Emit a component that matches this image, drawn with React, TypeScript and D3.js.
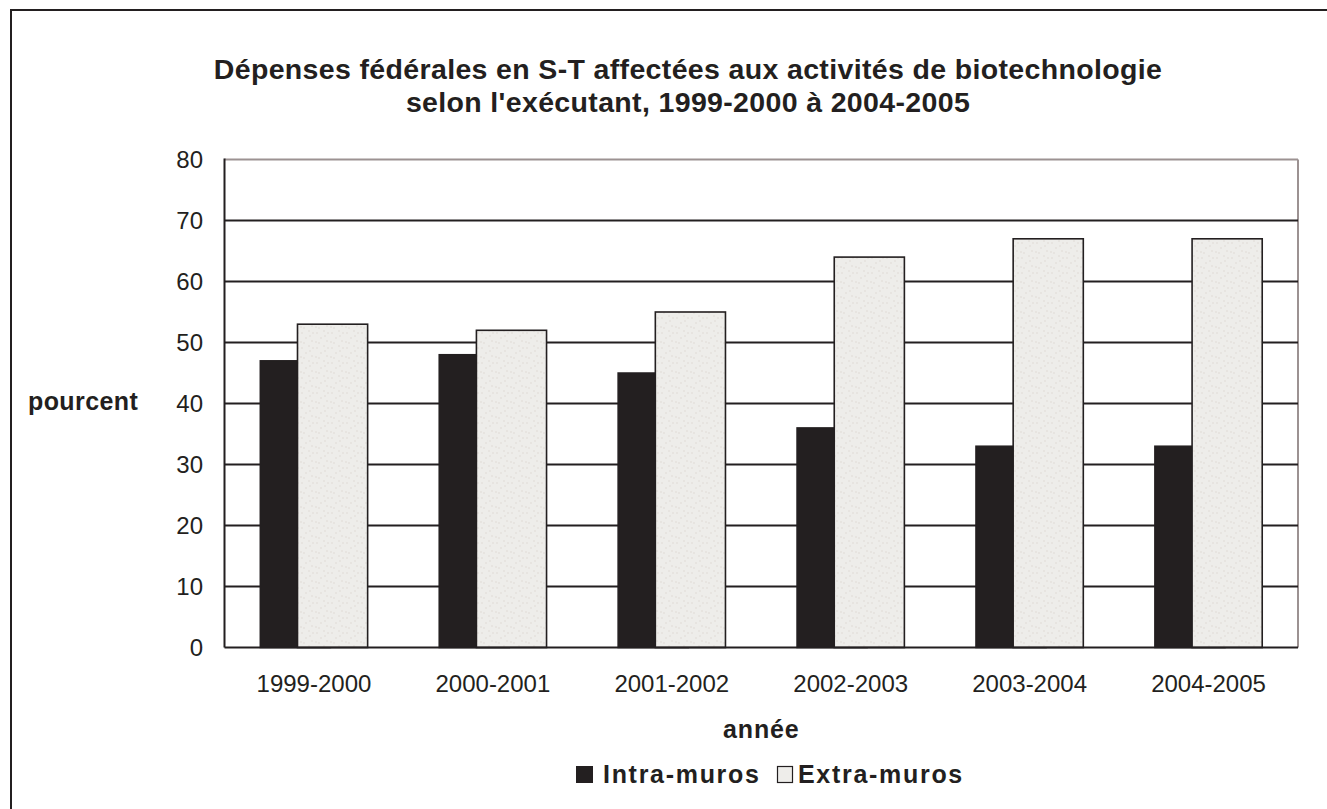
import React from "react";
import * as d3 from "d3";

const categories = ["1999-2000", "2000-2001", "2001-2002", "2002-2003", "2003-2004", "2004-2005"];
const intraMuros = [47, 48, 45, 36, 33, 33];
const extraMuros = [53, 52, 55, 64, 67, 67];
const yTicks = [0, 10, 20, 30, 40, 50, 60, 70, 80];
const titleLines = [
  "Dépenses fédérales en S-T affectées aux activités de biotechnologie",
  "selon l'exécutant, 1999-2000 à 2004-2005",
];
const seriesNames = ["Intra-muros", "Extra-muros"];

const W = 1327;
const H = 809;
const FONT = "'Liberation Sans', Arial, Helvetica, sans-serif";
const INK = "#231f20";
const LIGHT = "#eeedea";

export default function App() {
  const left = 224.5;
  const right = 1298;
  const top = 159.5;
  const bottom = 647.5;

  const x = d3.scaleBand<string>().domain(categories).range([left, right]).padding(0);
  const y = d3.scaleLinear().domain([0, 80]).range([bottom, top]);
  const bw = x.bandwidth();
  const barW = bw * 0.392;

  const speckles = [
    [2, 3], [9, 1], [6, 8], [12, 11], [1, 12], [10, 6], [4, 13], [13, 3],
  ];

  return (
    <svg
      width={W}
      height={H}
      style={{ position: "absolute", left: 0, top: 0, display: "block" }}
      fontFamily={FONT}
    >
      <defs>
        <pattern id="speck" width="15" height="15" patternUnits="userSpaceOnUse">
          <rect width="15" height="15" fill={LIGHT} />
          {speckles.map(([a, b], i) => (
            <circle key={i} cx={a} cy={b} r={0.7} fill="#dcd6cf" />
          ))}
        </pattern>
      </defs>
      <rect x={0} y={0} width={W} height={H} fill="#fff" />
      {/* outer frame */}
      <rect x={11} y={10} width={1400} height={900} fill="none" stroke={INK} strokeWidth={2} />

      {/* title */}
      {titleLines.map((t, i) => (
        <text
          key={i}
          x={688}
          y={79 + i * 33}
          textAnchor="middle"
          fontSize={28.5}
          fontWeight="bold"
          letterSpacing={0.35}
          fill={INK}
        >
          {t}
        </text>
      ))}

      {/* plot border top/right */}
      <line x1={left} x2={right} y1={top} y2={top} stroke="#9c9292" strokeWidth={2} />
      <line x1={right} x2={right} y1={top} y2={bottom} stroke="#9c9292" strokeWidth={2} />

      {/* gridlines */}
      {yTicks.filter((t) => t > 0 && t < 80).map((t) => (
        <line key={t} x1={left} x2={right} y1={y(t)} y2={y(t)} stroke={INK} strokeWidth={2} />
      ))}

      {/* bars */}
      {categories.map((c, i) => {
        const x0 = x(c)!;
        return (
          <g key={c}>
            <rect
              x={x0 + bw * 0.2}
              y={y(intraMuros[i])}
              width={barW}
              height={bottom - y(intraMuros[i])}
              fill={INK}
              stroke={INK}
              strokeWidth={1.5}
            />
            <rect
              x={x0 + bw * 0.408}
              y={y(extraMuros[i])}
              width={barW}
              height={bottom - y(extraMuros[i])}
              fill="url(#speck)"
              stroke={INK}
              strokeWidth={1.6}
            />
          </g>
        );
      })}

      {/* axes */}
      <line x1={left} x2={left} y1={top - 1} y2={bottom} stroke={INK} strokeWidth={2} />
      <line x1={left} x2={right} y1={bottom} y2={bottom} stroke={INK} strokeWidth={2.2} />

      {/* y tick labels */}
      {yTicks.map((t) => (
        <text key={t} x={203} y={y(t)} dy="0.36em" textAnchor="end" fontSize={24} fill={INK}>
          {t}
        </text>
      ))}

      {/* x tick labels */}
      {categories.map((c) => (
        <text key={c} x={x(c)! + bw / 2} y={692} textAnchor="middle" fontSize={24} fill={INK}>
          {c}
        </text>
      ))}

      {/* axis titles */}
      <text x={28} y={410} fontSize={25} fontWeight="bold" letterSpacing={0.4} fill={INK}>
        pourcent
      </text>
      <text x={(left + right) / 2} y={738} textAnchor="middle" fontSize={25} fontWeight="bold" letterSpacing={0.8} fill={INK}>
        année
      </text>

      {/* legend */}
      <rect x={576.5} y={766.5} width={16} height={16} fill={INK} stroke={INK} strokeWidth={1} />
      <text x={603} y={783} fontSize={25} fontWeight="bold" letterSpacing={1.7} fill={INK}>
        {seriesNames[0]}
      </text>
      <rect x={777.5} y={766.5} width={15} height={16} fill={LIGHT} stroke={INK} strokeWidth={1.2} />
      <text x={798} y={783} fontSize={25} fontWeight="bold" letterSpacing={1.7} fill={INK}>
        {seriesNames[1]}
      </text>
    </svg>
  );
}
